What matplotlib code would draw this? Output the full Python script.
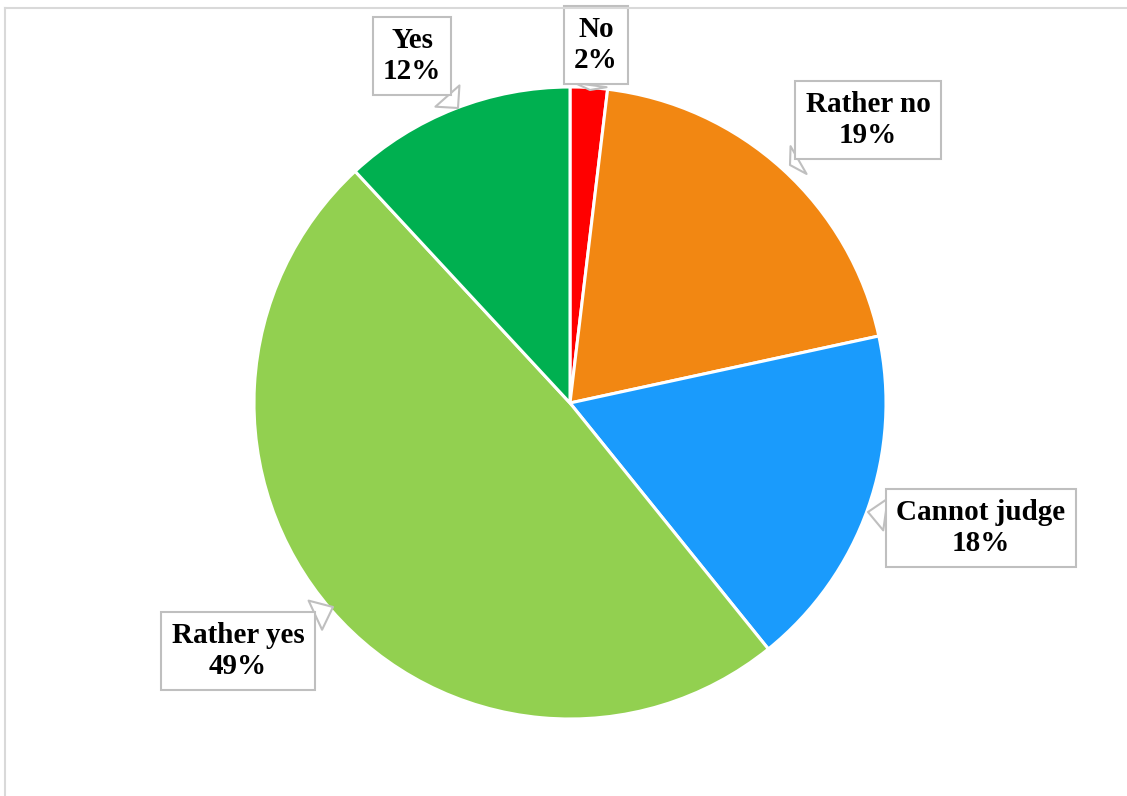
import matplotlib.pyplot as plt
import matplotlib.lines as mlines

# === DATA ===
categories = ['No', 'Rather no', 'Cannot judge', 'Rather yes', 'Yes']
shares = [1.9, 19.7, 17.6, 48.9, 11.9]
pct_labels = ['2%', '19%', '18%', '49%', '12%']
colors = ['#FF0000', '#F28712', '#1A9BFC', '#92D050', '#00B050']

# callout box centers and pointer tips (figure pixels, from top-left)
box_xy = [(596, 45), (868, 120), (981, 528), (238, 651), (412, 56)]
tip_xy = [(590, 90), (790, 165), (868, 512), (333, 607), (458, 108)]

W, H = 1127, 796
CX, CY, R = 570, 403, 316

fig = plt.figure(figsize=(W / 100, H / 100), dpi=100)
ax = fig.add_axes([0, 0, 1, 1])

ax.pie(shares, colors=colors, startangle=90, counterclock=False, radius=1,
       wedgeprops=dict(edgecolor='white', linewidth=2.2))

# axis limits so that radius 1 = R pixels and center at (CX, CY)
ax.set_xlim(-CX / R, (W - CX) / R)
ax.set_ylim(-(H - CY) / R, CY / R)
ax.axis('off')


def px(x, y):
    return ((x - CX) / R, (CY - y) / R)


# === CALLOUT LABELS ===
for cat, pct, bxy, txy in zip(categories, pct_labels, box_xy, tip_xy):
    ax.annotate(f'{cat}\n{pct}', xy=px(*txy), xytext=px(*bxy),
                ha='center', va='center', fontsize=21, fontweight='bold',
                family='Liberation Serif', linespacing=1.2,
                bbox=dict(boxstyle='square,pad=0.35', fc='white', ec='#BFBFBF', lw=1.5),
                arrowprops=dict(arrowstyle='wedge,tail_width=1.1,shrink_factor=0.5',
                                fc='white', ec='#BFBFBF', lw=1.5,
                                shrinkA=0, shrinkB=0),
                zorder=5)

# chart area border (top and left only visible)
fig.add_artist(mlines.Line2D([5 / W, 1], [1 - 8 / H, 1 - 8 / H], color='#D9D9D9', lw=1.5))
fig.add_artist(mlines.Line2D([5 / W, 5 / W], [0, 1 - 8 / H], color='#D9D9D9', lw=1.5))

fig.savefig('out.png', dpi=100, facecolor='white')
